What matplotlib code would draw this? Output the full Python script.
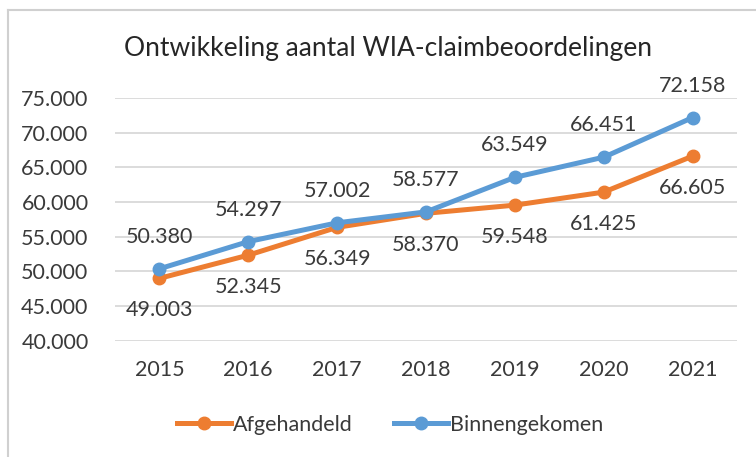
import matplotlib.pyplot as plt
from matplotlib.lines import Line2D
from matplotlib.ticker import FuncFormatter

plt.rcParams['font.family'] = ['Lato', 'DejaVu Sans']

jaren = ['2015', '2016', '2017', '2018', '2019', '2020', '2021']
afgehandeld = [49003, 52345, 56349, 58370, 59548, 61425, 66605]
binnengekomen = [50380, 54297, 57002, 58577, 63549, 66451, 72158]

oranje = '#ED7D31'
blauw = '#5B9BD5'
tekst = '#3a3a3a'


def dutch(v, pos=None):
    # duizendtallen met een punt
    return f'{int(v):,}'.replace(',', '.')


fig = plt.figure(figsize=(7.56, 4.57), dpi=100)
ax = fig.add_axes([0.152, 0.254, 0.823, 0.532])

x = list(range(len(jaren)))
ax.plot(x, afgehandeld, color=oranje, lw=3.6, marker='o', ms=9, zorder=3,
        solid_capstyle='round')
ax.plot(x, binnengekomen, color=blauw, lw=3.6, marker='o', ms=9, zorder=4,
        solid_capstyle='round')

for i in x:
    ax.annotate(dutch(binnengekomen[i]), (i, binnengekomen[i]), xytext=(0, 23),
                textcoords='offset points', ha='center', va='center',
                fontsize=15.5, color=tekst, annotation_clip=False)
    ax.annotate(dutch(afgehandeld[i]), (i, afgehandeld[i]), xytext=(0, -23),
                textcoords='offset points', ha='center', va='center',
                fontsize=15.5, color=tekst, annotation_clip=False)

ax.set_xlim(-0.5, len(jaren) - 0.5)
ax.set_ylim(40000, 75000)
ax.set_yticks(range(40000, 75001, 5000))
ax.yaxis.set_major_formatter(FuncFormatter(dutch))
ax.set_xticks(x)
ax.set_xticklabels(jaren)
ax.tick_params(length=0, labelsize=15.5, labelcolor=tekst)
ax.tick_params(axis='y', pad=19)
ax.tick_params(axis='x', pad=14)
ax.grid(axis='y', color='#d9d9d9', lw=1.3)
ax.set_axisbelow(True)
for s in ax.spines.values():
    s.set_visible(False)

fig.text(0.513, 0.893, 'Ontwikkeling aantal WIA-claimbeoordelingen',
         ha='center', va='center', fontsize=19, color='#262626')

handles = [Line2D([], [], color=oranje, lw=3.6, marker='o', ms=9),
           Line2D([], [], color=blauw, lw=3.6, marker='o', ms=9)]
fig.legend(handles, ['Afgehandeld', 'Binnengekomen'], loc='center',
           bbox_to_anchor=(0.516, 0.07), ncol=2, frameon=False, fontsize=15.5,
           labelcolor=tekst, handlelength=2.5, handletextpad=0.1,
           columnspacing=1.9)

# rand van de grafiek (alleen boven en links zichtbaar)
fig.add_artist(Line2D([0.011, 0.011], [0, 0.978], color='#d0d0d0', lw=1.5))
fig.add_artist(Line2D([0.011, 1.0], [0.978, 0.978], color='#d0d0d0', lw=1.5))

fig.savefig('out.png', dpi=100)
